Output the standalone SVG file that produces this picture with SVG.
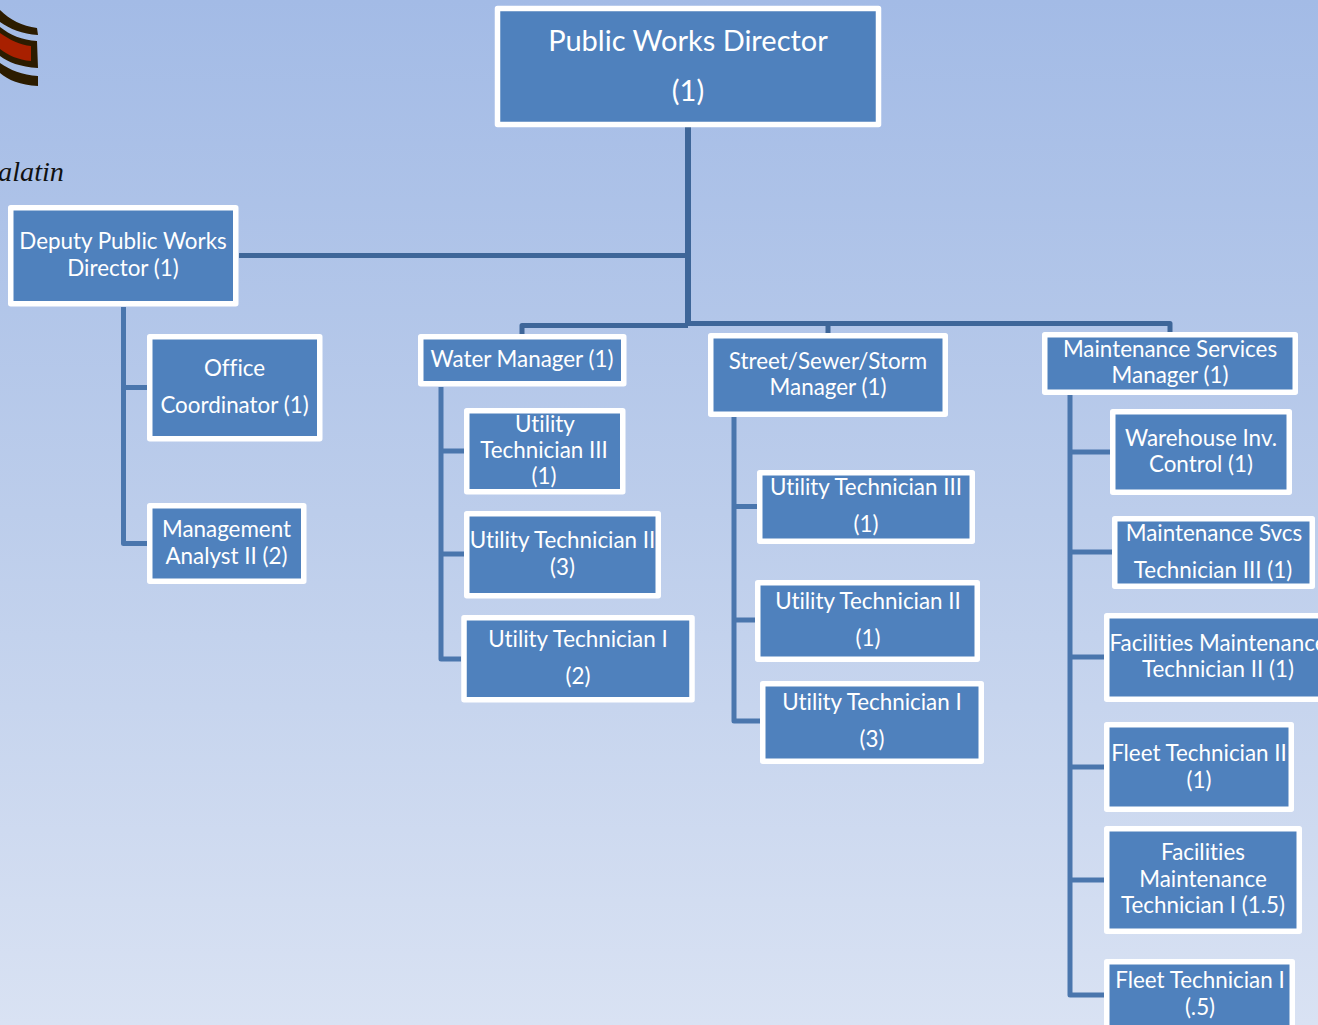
<svg xmlns="http://www.w3.org/2000/svg" width="1318" height="1025" viewBox="0 0 1318 1025">
<defs>
<linearGradient id="bg" x1="0" y1="0" x2="0" y2="1"><stop offset="0" stop-color="#a3bbe6"/><stop offset="0.5" stop-color="#bccdeb"/><stop offset="1" stop-color="#d9e2f3"/></linearGradient>
</defs>
<style>
.b{fill:#4f81bd;stroke:#fff;stroke-width:5.5;stroke-linejoin:round}
text{font-family:Lato,"Open Sans","Liberation Sans",sans-serif;fill:#fff;font-size:22.4px;text-anchor:middle;font-variant-ligatures:none}
.t{font-size:29px}
.c{fill:none;stroke:#4a76ad;stroke-width:5;stroke-linejoin:round}
.d{fill:none;stroke:#3e6699;stroke-width:5;stroke-linejoin:round}
</style>
<rect width="1318" height="1025" fill="url(#bg)"/>
<g id="logo">
<path d="M0 10C10 20 22 26 37 28L38 35C22 34 10 29 0 22Z" fill="#2c1c00"/>
<path d="M0 27C10 35 22 40 37 41L38 68C20 67 8 62 0 56Z" fill="#2c1c00"/>
<path d="M0 33C10 40 20 45 31 46V61C18 60 8 55 0 49Z" fill="#a82000"/>
<path d="M0 63C10 70 22 75 38 76V86C20 85 8 80 0 73Z" fill="#2c1c00"/>
<text x="-2" y="181" textLength="66" lengthAdjust="spacingAndGlyphs" style="font-family:'Liberation Serif',serif;font-style:italic;font-size:27px;fill:#111;text-anchor:start">alatin</text>
</g>
<g id="connectors">
<path class="d" style="stroke-width:6" d="M688 127V325"/>
<path class="d" d="M239 255.500H688"/>
<path class="d" d="M522 334V325.500H688"/>
<path class="d" d="M688 323.500H1170V332"/>
<path class="d" d="M828 323.500V333"/>
<path class="c" d="M123.500 307V543.500H147M123.500 387.500H147"/>
<path class="c" d="M441 387V659H461M441 451H464M441 554H464"/>
<path class="c" d="M734 417V721H760M734 506.500H757M734 620H755"/>
<path class="c" d="M1070 395V995H1104M1070 452H1110M1070 552H1112M1070 657H1104M1070 767H1104M1070 880H1104"/>
</g>
<g id="director"><rect class="b" x="497.500" y="8.500" width="381" height="116"/><text class="t" x="688" y="51">Public Works Director</text><text class="t" x="688" y="101">(1)</text></g>
<g id="deputy"><rect class="b" x="10.750" y="207.750" width="225" height="96"/><text x="123" y="249">Deputy Public Works</text><text x="123" y="276">Director (1)</text></g>
<g id="office"><rect class="b" x="149.750" y="336.750" width="170" height="102"/><text x="234.500" y="376">Office</text><text x="234.500" y="413">Coordinator (1)</text></g>
<g id="analyst"><rect class="b" x="149.750" y="505.750" width="154" height="75.500"/><text x="226.500" y="537">Management</text><text x="226.500" y="564">Analyst II (2)</text></g>
<g id="water"><rect class="b" x="420.750" y="336.750" width="203" height="47"/><text x="522" y="367">Water Manager (1)</text></g>
<g id="water-ut3"><rect class="b" x="466.750" y="410.750" width="156" height="81"/><text x="545" y="432">Utility</text><text x="544" y="458">Technician III</text><text x="544" y="484">(1)</text></g>
<g id="water-ut2"><rect class="b" x="466.750" y="513.750" width="191.500" height="82"/><text x="562.500" y="548">Utility Technician II</text><text x="562.500" y="575">(3)</text></g>
<g id="water-ut1"><rect class="b" x="464" y="617.750" width="228" height="82"/><text x="578" y="647">Utility Technician I</text><text x="578" y="684">(2)</text></g>
<g id="street"><rect class="b" x="710.750" y="335.750" width="234.500" height="78.500"/><text x="828" y="369">Street/Sewer/Storm</text><text x="828" y="395">Manager (1)</text></g>
<g id="street-ut3"><rect class="b" x="759.750" y="472.750" width="212.500" height="68.500"/><text x="866" y="495">Utility Technician III</text><text x="866" y="532">(1)</text></g>
<g id="street-ut2"><rect class="b" x="757.750" y="582.750" width="219.500" height="76.500"/><text x="868" y="609">Utility Technician II</text><text x="868" y="646">(1)</text></g>
<g id="street-ut1"><rect class="b" x="762.750" y="683.750" width="218.500" height="77.500"/><text x="872" y="710">Utility Technician I</text><text x="872" y="747">(3)</text></g>
<g id="maint"><rect class="b" x="1044.750" y="334.750" width="250.500" height="57.500"/><text x="1170" y="357">Maintenance Services</text><text x="1170" y="383">Manager (1)</text></g>
<g id="warehouse"><rect class="b" x="1112.750" y="411.750" width="176.500" height="80.500"/><text x="1201" y="446">Warehouse Inv.</text><text x="1201" y="472">Control (1)</text></g>
<g id="maint-svcs"><rect class="b" x="1114.750" y="518.750" width="197.500" height="67.500"/><text x="1214" y="541">Maintenance Svcs</text><text x="1213" y="578">Technician III (1)</text></g>
<g id="fac-2"><rect class="b" x="1106.750" y="615.750" width="230" height="83.500"/><text x="1218" y="651">Facilities Maintenance</text><text x="1218" y="677">Technician II (1)</text></g>
<g id="fleet-2"><rect class="b" x="1106.750" y="724.750" width="184.500" height="84.500"/><text x="1199" y="761">Fleet Technician II</text><text x="1199" y="788">(1)</text></g>
<g id="fac-1"><rect class="b" x="1106.750" y="828.750" width="192.500" height="102.500"/><text x="1203" y="860">Facilities</text><text x="1203" y="887">Maintenance</text><text x="1203" y="913">Technician I (1.5)</text></g>
<g id="fleet-1"><rect class="b" x="1106.750" y="961.750" width="185.500" height="80"/><text x="1200" y="988">Fleet Technician I</text><text x="1200" y="1015">(.5)</text></g>
</svg>
